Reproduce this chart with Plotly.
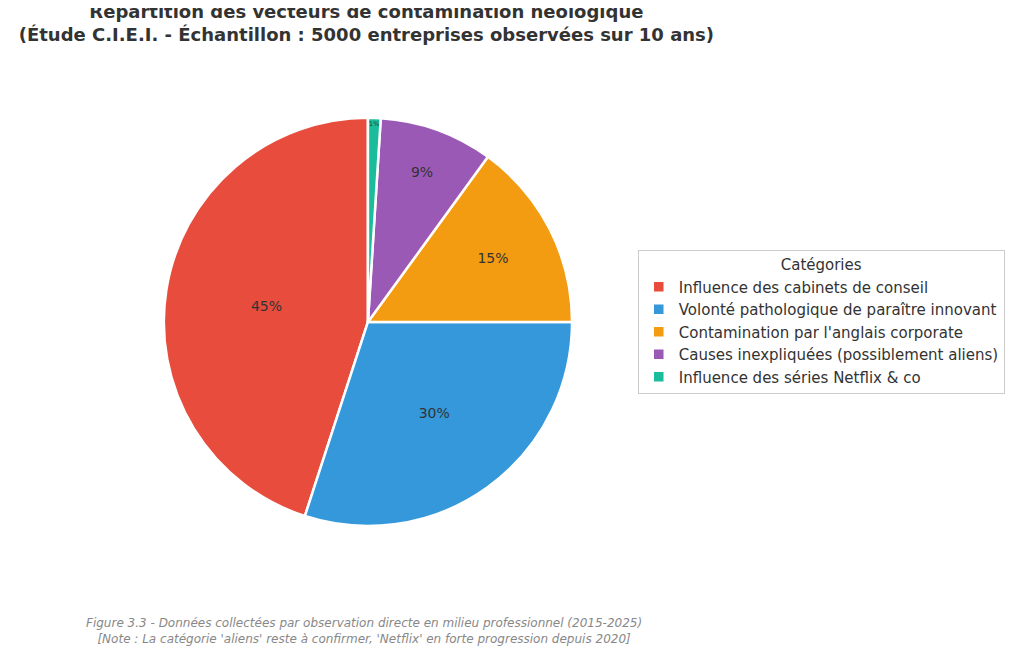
import plotly.graph_objects as go

categories = ["Influence des cabinets de conseil",
              "Volonté pathologique de paraître innovant",
              "Contamination par l'anglais corporate",
              "Causes inexpliquées (possiblement aliens)",
              "Influence des séries Netflix & co"]
values = [45, 30, 15, 9, 1]
colors = ["#e74c3c", "#3498db", "#f39c12", "#9b59b6", "#1abc9c"]

fig = go.Figure(go.Pie(
    labels=categories, values=values, sort=False, direction="counterclockwise", rotation=-162,
    marker=dict(colors=colors, line=dict(color="white", width=2.5)),
    texttemplate="%{percent:.0%}", textposition="inside", insidetextorientation="horizontal",
    textfont=dict(color="#333333", size=14),
    domain=dict(x=[0.152, 0.551], y=[0.203, 0.831]),
))
fig.update_layout(
    width=1024, height=650, margin=dict(l=0, r=0, t=0, b=0),
    paper_bgcolor="white", font=dict(family="DejaVu Sans", color="#333333"),
    title=dict(text="<b>Répartition des vecteurs de contamination néologique<br>(Étude C.I.E.I. - Échantillon : 5000 entreprises observées sur 10 ans)</b>",
               x=0.35, xanchor="center", y=0.985, yanchor="top", font=dict(size=18, color="#333333")),
    legend=dict(title=dict(text="Catégories", side="top center", font=dict(size=15)),
                x=0.615, xanchor="left", y=0.517, yanchor="middle",
                bordercolor="#cccccc", borderwidth=1, font=dict(size=15, color="#333333")),
    annotations=[dict(text="<i>Figure 3.3 - Données collectées par observation directe en milieu professionnel (2015-2025)<br>[Note : La catégorie 'aliens' reste à confirmer, 'Netflix' en forte progression depuis 2020]</i>",
                      x=0.348, y=0.015, xref="paper", yref="paper", xanchor="center", yanchor="bottom",
                      showarrow=False, font=dict(size=12, color="#888888"))],
)
fig.write_html("out.html")
